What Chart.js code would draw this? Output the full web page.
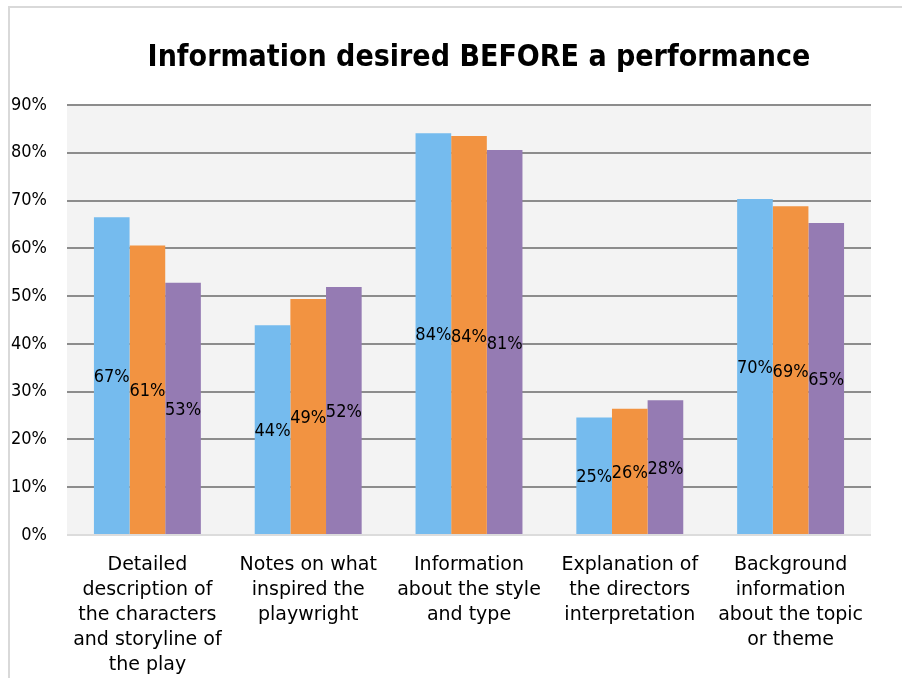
<!DOCTYPE html>
<html>
<head>
<meta charset="utf-8">
<script src="https://cdn.jsdelivr.net/npm/chart.js@4"></script>
<style>
    html, body { margin: 0; padding: 0; background: #fff; overflow: hidden; }
    #frame {
        position: absolute; left: 8px; top: 6px; width: 1000px; height: 800px;
        border-left: 2px solid #d9d9d9; border-top: 2px solid #d9d9d9;
    }
    #chart { position: absolute; left: 0; top: 0; }
</style>
</head>
<body>
<div id="frame"></div>
<canvas id="chart" width="902" height="678"></canvas>
<script>
const FONT = "'DejaVu Sans Condensed', 'DejaVu Sans', sans-serif";
const WIDE_FONT = "'DejaVu Sans', sans-serif";

const categories = [
    ["Detailed", "description of", "the characters", "and storyline of", "the play"],
    ["Notes on what", "inspired the", "playwright"],
    ["Information", "about the style", "and type"],
    ["Explanation of", "the directors", "interpretation"],
    ["Background", "information", "about the topic", "or theme"]
];

const seriesA = [66.5, 43.9, 84.1, 24.6, 70.3];
const seriesB = [60.6, 49.4, 83.5, 26.4, 68.8];
const seriesC = [52.8, 51.9, 80.6, 28.2, 65.3];

const yTicks = [0, 10, 20, 30, 40, 50, 60, 70, 80, 90];

const titleText = "Information desired BEFORE a performance";

// grey plot background behind the bars
const plotBackground = {
    id: "plotBackground",
    beforeDraw(chart) {
        const { ctx, chartArea } = chart;
        ctx.save();
        ctx.fillStyle = "#f3f3f3";
        ctx.fillRect(chartArea.left, chartArea.top, chartArea.right - chartArea.left, chartArea.bottom - chartArea.top);
        ctx.restore();
    }
};

// title drawn by hand so it can sit off-centre
const titleDraw = {
    id: "titleDraw",
    afterDraw(chart) {
        const ctx = chart.ctx;
        ctx.save();
        ctx.font = "bold 30px " + FONT;
        ctx.fillStyle = "#000";
        ctx.textAlign = "center";
        ctx.textBaseline = "middle";
        ctx.fillText(titleText, 479, 58);
        ctx.restore();
    }
};

// percentage label in the middle of each bar
const barLabels = {
    id: "barLabels",
    afterDatasetsDraw(chart) {
        const ctx = chart.ctx;
        ctx.save();
        ctx.font = "18px " + FONT;
        ctx.fillStyle = "#000";
        ctx.textAlign = "center";
        ctx.textBaseline = "middle";
        chart.data.datasets.forEach((ds, i) => {
            chart.getDatasetMeta(i).data.forEach((bar, j) => {
                const { x, y, base } = bar.getProps(["x", "y", "base"], true);
                ctx.fillText(Math.round(ds.data[j]) + "%", x, (y + base) / 2 + 2);
            });
        });
        ctx.restore();
    }
};

new Chart(document.getElementById("chart"), {
    type: "bar",
    data: {
        labels: categories,
        datasets: [
            { label: "Series 1", data: seriesA, backgroundColor: "#75bbee" },
            { label: "Series 2", data: seriesB, backgroundColor: "#f29341" },
            { label: "Series 3", data: seriesC, backgroundColor: "#957bb3" }
        ]
    },
    options: {
        responsive: false,
        animation: false,
        layout: { padding: { top: 105, right: 31, left: 0, bottom: 0 } },
        datasets: {
            bar: { categoryPercentage: 0.665, barPercentage: 1.0, borderWidth: 0 }
        },
        scales: {
            x: {
                afterFit: scale => { scale.height = 143; },
                grid: { display: false },
                border: { display: false },
                ticks: {
                    color: "#000",
                    padding: 10,
                    maxRotation: 0,
                    autoSkip: false,
                    font: { family: WIDE_FONT, size: 19, lineHeight: 1.31 }
                }
            },
            y: {
                min: 0,
                max: 90,
                afterFit: scale => { scale.width = 67; },
                afterBuildTicks: scale => { scale.ticks = yTicks.map(v => ({ value: v })); },
                border: { display: false },
                grid: {
                    drawTicks: false,
                    lineWidth: 2,
                    color: c => c.tick && c.tick.value === 0 ? "#dcdcdc" : "#8c8c8c"
                },
                ticks: {
                    color: "#000",
                    padding: 20,
                    font: { family: FONT, size: 18 },
                    callback: v => v + "%"
                }
            }
        },
        plugins: {
            legend: { display: false },
            tooltip: { enabled: false },
            title: { display: false }
        }
    },
    plugins: [plotBackground, barLabels, titleDraw]
});
</script>
</body>
</html>
